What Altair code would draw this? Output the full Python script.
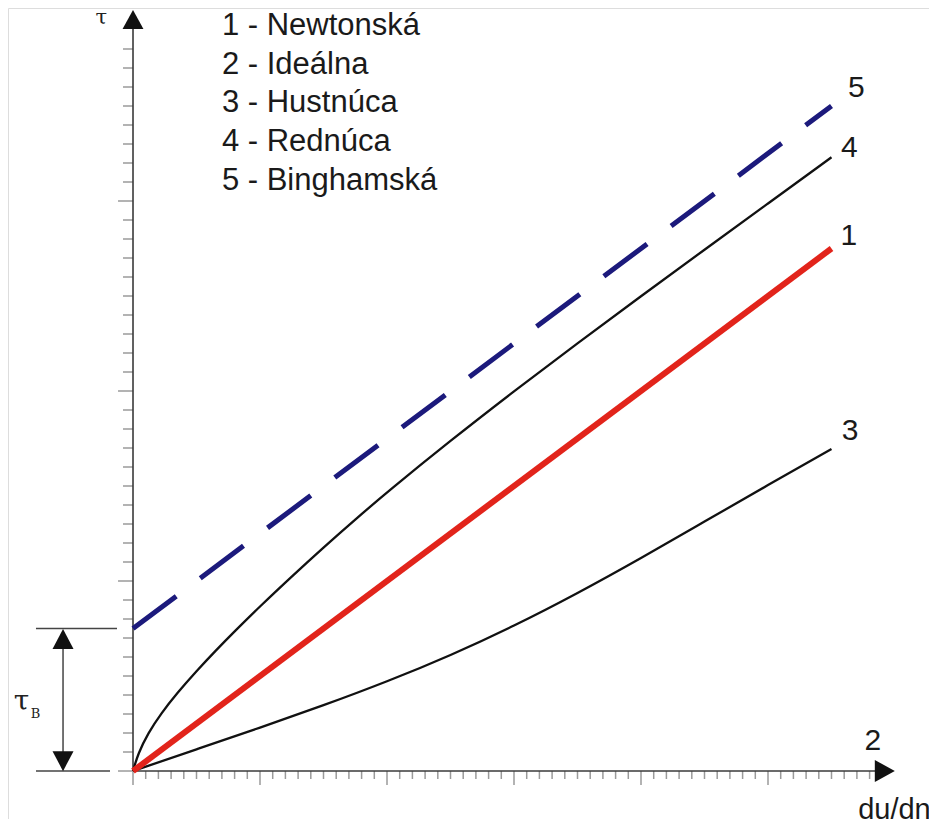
import altair as alt
import pandas as pd

# ---------------- data (in chart units: x = du/dn, y = tau) ----------------
newton_x = [0, 55]
newton_y = [0, 27.5]

bingham_x = [0, 55]
bingham_y = [7.5, 35.0]

rednuca_x = [0, 0.4, 1.2, 2.2, 3.5, 5.0, 6.5, 8.0, 10.0, 12.5, 15.0, 17.5, 20.0,
             25.0, 30.0, 35.0, 40.0, 45.0, 50.0, 55.0]
rednuca_y = [0, 0.92, 2.0, 3.02, 4.12, 5.26, 6.33, 7.35, 8.67, 10.24, 11.77, 13.24, 14.67,
             17.39, 19.99, 22.52, 24.99, 27.44, 29.87, 32.3]

hustnuca_x = [0, 5, 10, 15, 20, 25, 30, 35, 40, 45, 50, 55]
hustnuca_y = [0, 1.14, 2.28, 3.45, 4.7, 6.08, 7.63, 9.35, 11.2, 13.13, 15.05, 16.95]

tau_b = 7.5

legend_items = ["1 - Newtonská", "2 - Ideálna", "3 - Hustnúca", "4 - Rednúca", "5 - Binghamská"]
curve_labels = ["5", "4", "1", "3", "2"]
curve_label_x = [56.3, 55.75, 55.7, 55.8, 57.6]
curve_label_y = [35.47, 32.3, 27.7, 17.4, 1.1]

x_major = [0, 10, 20, 30, 40, 50]
x_minor = [i for i in range(1, 59) if i % 10 != 0]
y_major = [0, 10, 20, 30]
y_minor = [i for i in range(1, 39) if i % 10 != 0]

x_axis_end = 58.8
y_axis_end = 39.1

# ---------------- scales ----------------
W, H = 921, 811
XS = alt.Scale(domain=[-9.843, 62.677], nice=False, zero=False)
YS = alt.Scale(domain=[-2.526, 40.158], nice=False, zero=False)


def X(field="x"):
    return alt.X(f"{field}:Q", scale=XS, axis=None)


def Y(field="y"):
    return alt.Y(f"{field}:Q", scale=YS, axis=None)


AX_COL = "#3a3a3a"
TICK_COL = "#9a9a9a"
SANS = "Liberation Sans"
SERIF = "DejaVu Serif"

# ---------------- ticks ----------------
xt = pd.DataFrame(
    [{"x": v, "y": 0, "y2": -0.42} for v in x_minor] +
    [{"x": v, "y": 0, "y2": -0.74} for v in x_major])
yt = pd.DataFrame(
    [{"y": v, "x": 0, "x2": -0.79} for v in y_minor] +
    [{"y": v, "x": 0, "x2": -1.18} for v in y_major])

x_ticks = alt.Chart(xt).mark_rule(color=TICK_COL, strokeWidth=1.5).encode(
    x=X(), y=Y(), y2="y2:Q")
y_ticks = alt.Chart(yt).mark_rule(color=TICK_COL, strokeWidth=1.5).encode(
    x=X(), x2="x2:Q", y=Y())

# ---------------- axis lines ----------------
axes_df = pd.DataFrame([
    {"x": 0, "y": 0, "x2": x_axis_end, "y2": 0},
    {"x": 0, "y": 0, "x2": 0, "y2": y_axis_end},
])
axes = alt.Chart(axes_df).mark_rule(color=AX_COL, strokeWidth=1.6).encode(
    x=X(), y=Y(), x2="x2:Q", y2="y2:Q")

# arrow heads
up_arrow = alt.Chart(pd.DataFrame({"x": [0], "y": [39.55]})).mark_point(
    shape="M0,-1L-1.1,1L1.1,1Z", size=361, filled=True, color="#111111", opacity=1
).encode(x=X(), y=Y())
right_arrow = alt.Chart(pd.DataFrame({"x": [59.2], "y": [0]})).mark_point(
    shape="M1,0L-1,-1.1L-1,1.1Z", size=400, filled=True, color="#111111", opacity=1
).encode(x=X(), y=Y())

# ---------------- tau_B annotation ----------------
tb_lines = pd.DataFrame([
    {"x": -7.64, "x2": -1.26, "y": tau_b},
    {"x": -7.64, "x2": -1.81, "y": 0},
])
tb_h = alt.Chart(tb_lines).mark_rule(color="#444444", strokeWidth=1.5).encode(
    x=X(), x2="x2:Q", y=Y())
tb_v = alt.Chart(pd.DataFrame({"x": [-5.51], "y": [0.6], "y2": [tau_b - 0.6]})).mark_rule(
    color="#444444", strokeWidth=1.5).encode(x=X(), y=Y(), y2="y2:Q")
tb_up = alt.Chart(pd.DataFrame({"x": [-5.51], "y": [6.95]})).mark_point(
    shape="M0,-1L-1.05,1L1.05,1Z", size=400, filled=True, color="#111111", opacity=1
).encode(x=X(), y=Y())
tb_down = alt.Chart(pd.DataFrame({"x": [-5.51], "y": [0.52]})).mark_point(
    shape="M0,1L-1.05,-1L1.05,-1Z", size=400, filled=True, color="#111111", opacity=1
).encode(x=X(), y=Y())

tau_b_text = alt.Chart(pd.DataFrame({"x": [-9.4], "y": [3.2], "t": ["τ"]})).mark_text(
    font=SERIF, fontSize=28, align="left", baseline="alphabetic", color="#222222"
).encode(x=X(), y=Y(), text="t:N")
tau_b_sub = alt.Chart(pd.DataFrame({"x": [-8.05], "y": [2.79], "t": ["B"]})).mark_text(
    font=SERIF, fontSize=13, align="left", baseline="alphabetic", color="#222222"
).encode(x=X(), y=Y(), text="t:N")
tau_top = alt.Chart(pd.DataFrame({"x": [-2.95], "y": [39.3], "t": ["τ"]})).mark_text(
    font=SERIF, fontSize=21, align="left", baseline="alphabetic", color="#222222"
).encode(x=X(), y=Y(), text="t:N")

# ---------------- curves ----------------
bing = alt.Chart(pd.DataFrame({"x": bingham_x, "y": bingham_y})).mark_line(
    color="#1c1a7c", strokeWidth=5, strokeDash=[54, 30], strokeCap="butt"
).encode(x=X(), y=Y())
red = alt.Chart(pd.DataFrame({"x": rednuca_x, "y": rednuca_y})).mark_line(
    color="#111111", strokeWidth=2.3, interpolate="basis"
).encode(x=X(), y=Y())
hust = alt.Chart(pd.DataFrame({"x": hustnuca_x, "y": hustnuca_y})).mark_line(
    color="#111111", strokeWidth=2.3, interpolate="basis"
).encode(x=X(), y=Y())
newt = alt.Chart(pd.DataFrame({"x": newton_x, "y": newton_y})).mark_line(
    color="#e2241b", strokeWidth=6, strokeCap="butt"
).encode(x=X(), y=Y())

# ---------------- texts ----------------
leg_df = pd.DataFrame({
    "t": legend_items,
    "x": [7.0] * len(legend_items),
    "y": [38.74 - 2.04 * i for i in range(len(legend_items))],
})
legend = alt.Chart(leg_df).mark_text(
    font=SANS, fontSize=31, align="left", baseline="alphabetic", color="#1a1a1a"
).encode(x=X(), y=Y(), text="t:N")

lab_df = pd.DataFrame({"t": curve_labels, "x": curve_label_x, "y": curve_label_y})
labels = alt.Chart(lab_df).mark_text(
    font=SANS, fontSize=30, align="left", baseline="alphabetic", color="#1a1a1a"
).encode(x=X(), y=Y(), text="t:N")

dudn = alt.Chart(pd.DataFrame({"x": [57.1], "y": [-2.5], "t": ["du/dn"]})).mark_text(
    font=SANS, fontSize=29, align="left", baseline="alphabetic", color="#1a1a1a"
).encode(x=X(), y=Y(), text="t:N")

chart = alt.layer(
    x_ticks, y_ticks, axes, up_arrow, right_arrow,
    tb_h, tb_v, tb_up, tb_down, tau_b_text, tau_b_sub, tau_top,
    hust, red, newt, bing, legend, labels, dudn
).properties(
    width=W, height=H, padding=0,
    autosize=alt.AutoSizeParams(type="none"),
).configure_view(stroke=None).configure(background="white")

chart.save("out.html", embed_options={"renderer": "svg", "actions": False})
